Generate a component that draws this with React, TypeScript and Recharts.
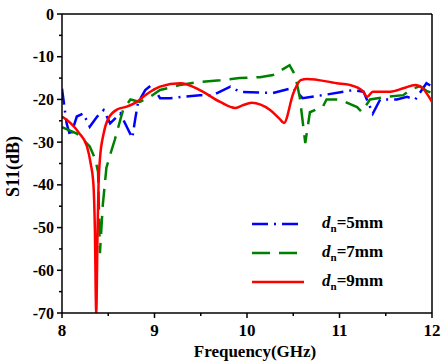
import { LineChart, Line, XAxis, YAxis, ReferenceLine, Legend } from "recharts";

const freq5 = [8.0, 8.05, 8.09, 8.16, 8.23, 8.3, 8.38, 8.45, 8.52, 8.63, 8.7, 8.76, 8.79, 8.82, 8.9, 8.97, 9.06, 9.17, 9.49, 9.63, 9.82, 9.92, 10.14, 10.28, 10.5, 10.6, 10.82, 11.15, 11.26, 11.36, 11.44, 11.62, 11.73, 11.82, 11.94, 12.0];
const s11d5 = [-17.5, -25.6, -28.7, -24, -23.3, -26.4, -24, -22.5, -25.6, -23.3, -26.4, -29, -24.8, -20.9, -17.8, -16.6, -19.7, -19.7, -19, -19, -17, -18.2, -18.4, -18.5, -17.3, -19.7, -19, -17.8, -18.2, -23.3, -20, -20, -19.4, -20, -16.2, -17];

const freq7 = [8.0, 8.16, 8.3, 8.36, 8.39, 8.41, 8.44, 8.48, 8.52, 8.57, 8.63, 8.66, 8.74, 8.84, 8.95, 9.06, 9.28, 9.49, 9.71, 9.92, 10.14, 10.28, 10.46, 10.52, 10.57, 10.63, 10.68, 10.82, 10.86, 11.0, 11.19, 11.24, 11.33, 11.51, 11.69, 11.76, 11.87, 11.94, 12.0];
const s11d7 = [-26.5, -28, -31, -34, -37, -56, -45, -36, -33, -29.5, -24.8, -22.5, -20, -20.6, -19.4, -17.8, -16.6, -15.9, -15.5, -15, -14.8, -14.3, -12, -14.3, -19.4, -30.2, -23, -21.7, -20, -20, -21.8, -22.9, -20, -19.4, -19, -17.8, -16.9, -18, -18.5];

const freq9 = [8.0, 8.09, 8.19, 8.27, 8.31, 8.34, 8.355, 8.37, 8.385, 8.395, 8.41, 8.45, 8.5, 8.6, 8.7, 8.8, 8.9, 9.06, 9.28, 9.49, 9.71, 9.87, 9.95, 10.05, 10.25, 10.35, 10.4, 10.5, 10.58, 10.65, 10.97, 11.11, 11.25, 11.3, 11.36, 11.55, 11.69, 11.82, 11.9, 12.0];
const s11d9 = [-24, -25.5, -28, -31, -35, -40, -50, -70, -50, -40, -34, -28, -24.5, -22.3, -21.7, -20.7, -19, -17, -16.2, -17.8, -20.6, -22, -21.4, -20.8, -22.5, -24.5, -25.5, -18.6, -15.5, -15.2, -16.2, -16.6, -18, -19.4, -18.2, -18.2, -17.4, -16.6, -17.4, -20.6];

const seriesNames = ["5mm", "7mm", "9mm"];
const seriesColors = ["#0000ff", "#008000", "#ff0000"];
const seriesDashes = ["16 6 2 6", "18 9", ""];

const xTicks = [8, 8.5, 9, 9.5, 10, 10.5, 11, 11.5, 12];
const yTicks = [-70, -65, -60, -55, -50, -45, -40, -35, -30, -25, -20, -15, -10, -5, 0];

const FONT = '"Liberation Serif", "Times New Roman", serif';

const toPoints = (f: number[], s: number[]) => f.map((x, i) => ({ f: x, s11: s[i] }));

const data5 = toPoints(freq5, s11d5);
const data7 = toPoints(freq7, s11d7);
const data9 = toPoints(freq9, s11d9);

const XTick = (props: any) => {
  const { x, y, payload } = props;
  const major = Number.isInteger(payload.value);
  return (
    <g>
      <line x1={x} y1={y} x2={x} y2={y + (major ? 5 : 3)} stroke="#000" strokeWidth={1.5} />
      {major && (
        <text x={x} y={y + 23} textAnchor="middle" fontSize={17} fontWeight="bold" fontFamily={FONT} fill="#000">
          {payload.value}
        </text>
      )}
    </g>
  );
};

const YTick = (props: any) => {
  const { x, y, payload } = props;
  const major = payload.value % 10 === 0;
  return (
    <g>
      <line x1={x - (major ? 5 : 3)} y1={y} x2={x} y2={y} stroke="#000" strokeWidth={1.5} />
      {major && (
        <text x={x - 8} y={y} dy="0.35em" textAnchor="end" fontSize={16} fontWeight="bold" fontFamily={FONT} fill="#000">
          {payload.value}
        </text>
      )}
    </g>
  );
};

const renderLegend = () => (
  <div style={{ fontFamily: FONT, fontWeight: "bold", fontSize: 17, color: "#000" }}>
    {seriesNames.map((name, i) => (
      <div key={name} style={{ display: "flex", alignItems: "center", height: 29 }}>
        <svg width={52} height={10} style={{ marginRight: 18 }}>
          <line x1={0} y1={5} x2={52} y2={5} stroke={seriesColors[i]} strokeWidth={2.5} strokeDasharray={seriesDashes[i] || undefined} />
        </svg>
        <span>
          <i>d</i>
          <sub style={{ fontSize: 11 }}>n</sub>=
          {name}
        </span>
      </div>
    ))}
  </div>
);

export default function App() {
  return (
    <div style={{ position: "absolute", left: 0, top: 0, background: "#fff" }}>
      <LineChart width={443} height={362} margin={{ top: 14, right: 11, bottom: 0, left: 0 }}>
        <XAxis
          type="number"
          dataKey="f"
          domain={[8, 12]}
          ticks={xTicks}
          interval={0}
          tickSize={0}
          tickMargin={0}
          tick={<XTick />}
          height={49}
          stroke="#000"
          strokeWidth={1.5}
          allowDataOverflow
          label={(p: any) => {
            const vb = p.viewBox;
            return (
              <text x={vb.x + vb.width / 2 + 8} y={vb.y + 44} textAnchor="middle" fontSize={17} fontWeight="bold" fontFamily={FONT} fill="#000">
                Frequency(GHz)
              </text>
            );
          }}
        />
        <YAxis
          type="number"
          domain={[-70, 0]}
          ticks={yTicks}
          interval={0}
          tickSize={0}
          tickMargin={0}
          tick={<YTick />}
          width={62}
          stroke="#000"
          strokeWidth={1.5}
          allowDataOverflow
          label={(p: any) => {
            const vb = p.viewBox;
            const cx = vb.x + 13;
            const cy = vb.y + vb.height / 2 + 3;
            return (
              <text x={cx} y={cy} dy="0.35em" transform={`rotate(-90, ${cx}, ${cy})`} textAnchor="middle" fontSize={18} fontWeight="bold" fontFamily={FONT} fill="#000">
                S11(dB)
              </text>
            );
          }}
        />
        <ReferenceLine y={0} stroke="#000" strokeWidth={1.5} />
        <ReferenceLine x={12} stroke="#000" strokeWidth={1.5} />
        <Line data={data5} dataKey="s11" name={seriesNames[0]} type="linear" stroke={seriesColors[0]} strokeWidth={2.5} strokeDasharray={seriesDashes[0]} dot={false} isAnimationActive={false} />
        <Line data={data7} dataKey="s11" name={seriesNames[1]} type="linear" stroke={seriesColors[1]} strokeWidth={2.5} strokeDasharray={seriesDashes[1]} dot={false} isAnimationActive={false} />
        <Line data={data9} dataKey="s11" name={seriesNames[2]} type="monotone" stroke={seriesColors[2]} strokeWidth={2.5} dot={false} isAnimationActive={false} />
        <Legend
          layout="vertical"
          align="center"
          verticalAlign="middle"
          content={renderLegend}
          wrapperStyle={{ position: "absolute", left: 252, top: 209, width: 160 }}
        />
      </LineChart>
    </div>
  );
}
